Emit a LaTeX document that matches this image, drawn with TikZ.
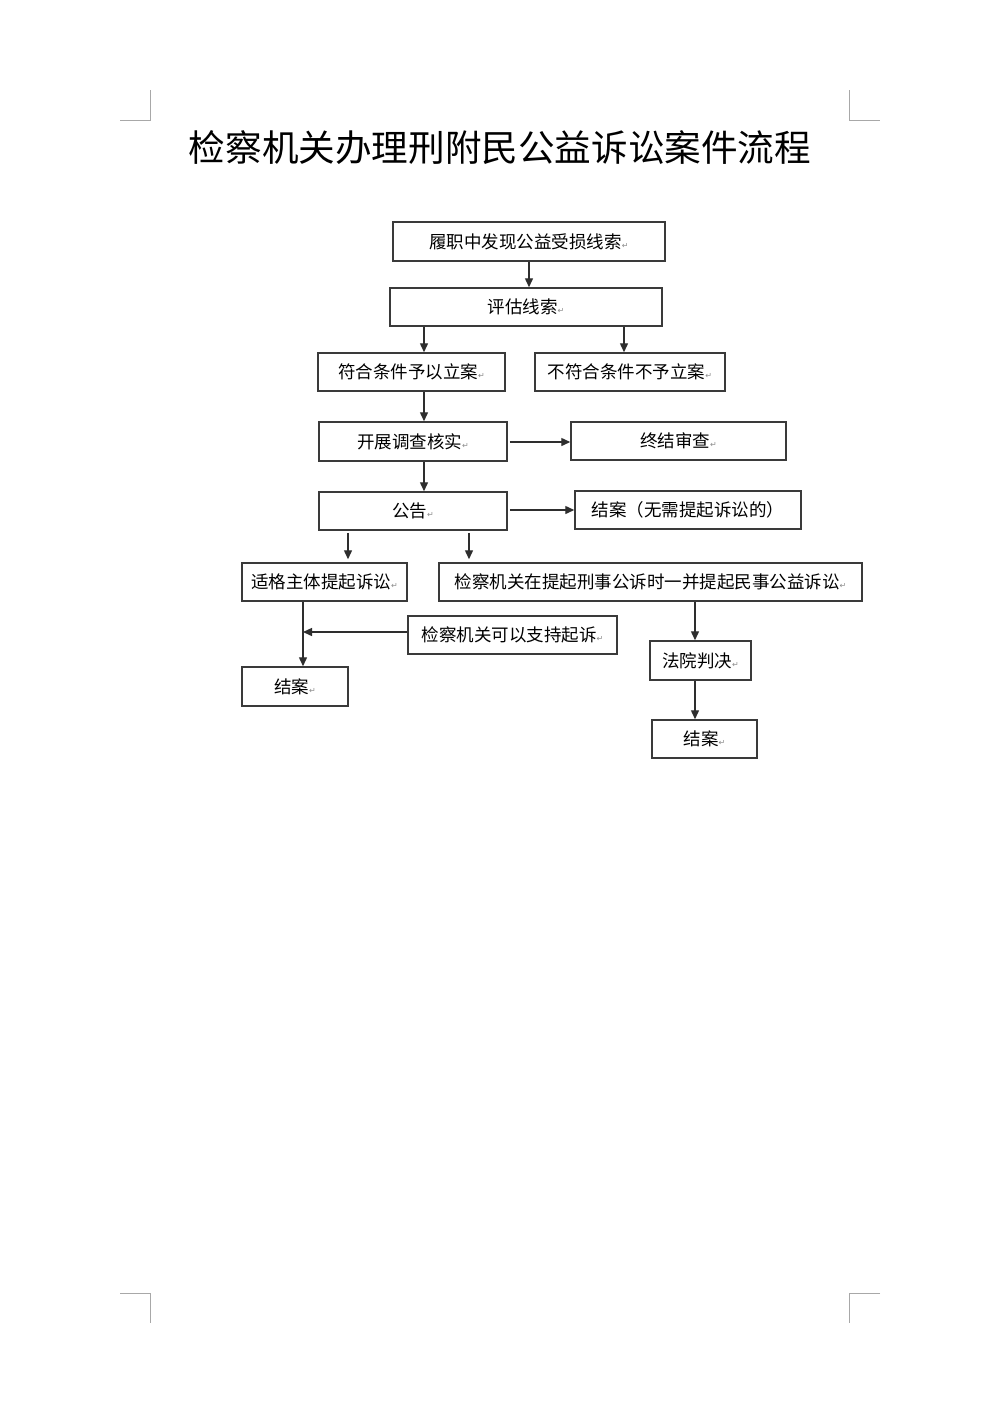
\documentclass[tikz,border=0pt]{standalone}
\usepackage{fontspec}
\setmainfont{Noto Sans CJK SC}
\newfontfamily\symf{DejaVu Sans}
\usetikzlibrary{arrows.meta,calc}
\newcommand{\parmark}{{\symf\fontsize{8}{8}\selectfont\textcolor{black!45}{↵}}}
\definecolor{boxc}{HTML}{3A3A3A}
\definecolor{linec}{HTML}{2E2E2E}
\definecolor{markc}{HTML}{A8A8A8}
\tikzset{
  box/.style={draw=boxc, line width=1.5pt, rectangle, inner sep=0pt, fill=white,
    font=\fontsize{17.5}{20}\selectfont, text=black},
  arr/.style={draw=linec, line width=1.4pt, -{Triangle[length=9pt,width=8pt]}},
  cropmark/.style={draw=markc, line width=1pt},
  titletext/.style={font=\fontsize{36.6}{42}\selectfont, text=black, inner sep=0pt}
}
\begin{document}
\begin{tikzpicture}[x=1pt,y=-1pt]
\useasboundingbox (0,0) rectangle (1000,1414);
\fill[white] (0,0) rectangle (1000,1414);

% crop marks
\draw[cropmark] (150,90) -- (150,120) -- (120,120);
\draw[cropmark] (849,90) -- (849,120) -- (880,120);
\draw[cropmark] (120,1293) -- (150,1293) -- (150,1323);
\draw[cropmark] (880,1293) -- (849,1293) -- (849,1323);

% title
\node[titletext] (title) at (500,148) {检察机关办理刑附民公益诉讼案件流程};

% column coordinates
\coordinate (cA) at (424,0);
\coordinate (cB) at (624,0);
\coordinate (cC) at (348,0);
\coordinate (cD) at (469,0);
\coordinate (cE) at (303,0);
\coordinate (cF) at (695,0);

% boxes
\node[box, minimum width=272pt, minimum height=39pt] (b1) at (529,241.5) {履职中发现公益受损线索\parmark};
\node[box, minimum width=272pt, minimum height=38pt] (b2) at (526,307) {评估线索\parmark};
\node[box, minimum width=187pt, minimum height=38pt] (b3) at (411.5,372) {符合条件予以立案\parmark};
\node[box, minimum width=190pt, minimum height=38pt] (b4) at (630,372) {不符合条件不予立案\parmark};
\node[box, minimum width=188pt, minimum height=39pt] (b5) at (413,441.5) {开展调查核实\parmark};
\node[box, minimum width=215pt, minimum height=38pt] (b6) at (678.5,441) {终结审查\parmark};
\node[box, minimum width=188pt, minimum height=38pt] (b7) at (413,511) {公告\parmark};
\node[box, minimum width=226pt, minimum height=38pt] (b8) at (688,510) {结案（无需提起诉讼的）};
\node[box, minimum width=165pt, minimum height=38pt] (b9) at (324.5,582) {适格主体提起诉讼\parmark};
\node[box, minimum width=423pt, minimum height=38pt] (b10) at (650.5,582) {检察机关在提起刑事公诉时一并提起民事公益诉讼\parmark};
\node[box, minimum width=209pt, minimum height=38pt] (b11) at (512.5,635) {检察机关可以支持起诉\parmark};
\node[box, minimum width=106pt, minimum height=39pt] (b12) at (295,686.5) {结案\parmark};
\node[box, minimum width=101pt, minimum height=39pt] (b13) at (700.5,660.5) {法院判决\parmark};
\node[box, minimum width=105pt, minimum height=38pt] (b14) at (704.5,739) {结案\parmark};

% connectors
\draw[arr] (b1.south) -- (b1.south |- b2.north);
\draw[arr] (b2.south -| cA) -- (b3.north -| cA);
\draw[arr] (b2.south -| cB) -- (b4.north -| cB);
\draw[arr] (b3.south -| cA) -- (b5.north -| cA);
\draw[arr, shorten <=2pt] ([yshift=-0.5pt]b5.east) -- ([yshift=-0.5pt]b5.east -| b6.west);
\draw[arr] (b5.south -| cA) -- (b7.north -| cA);
\draw[arr, shorten <=2pt] ([yshift=1pt]b7.east) -- ([yshift=1pt]b7.east -| b8.west);
\draw[arr, shorten <=2pt, shorten >=3pt] (b7.south -| cC) -- (b9.north -| cC);
\draw[arr, shorten <=2pt, shorten >=3pt] (b7.south -| cD) -- (b10.north -| cD);
\draw[arr] (b9.south -| cE) -- (b12.north -| cE);
\draw[arr] ([yshift=3pt]b11.west) -- ([yshift=3pt]b11.west -| cE);
\draw[arr] (b10.south -| cF) -- (b13.north -| cF);
\draw[arr] (b13.south -| cF) -- (b14.north -| cF);
\end{tikzpicture}
\end{document}
